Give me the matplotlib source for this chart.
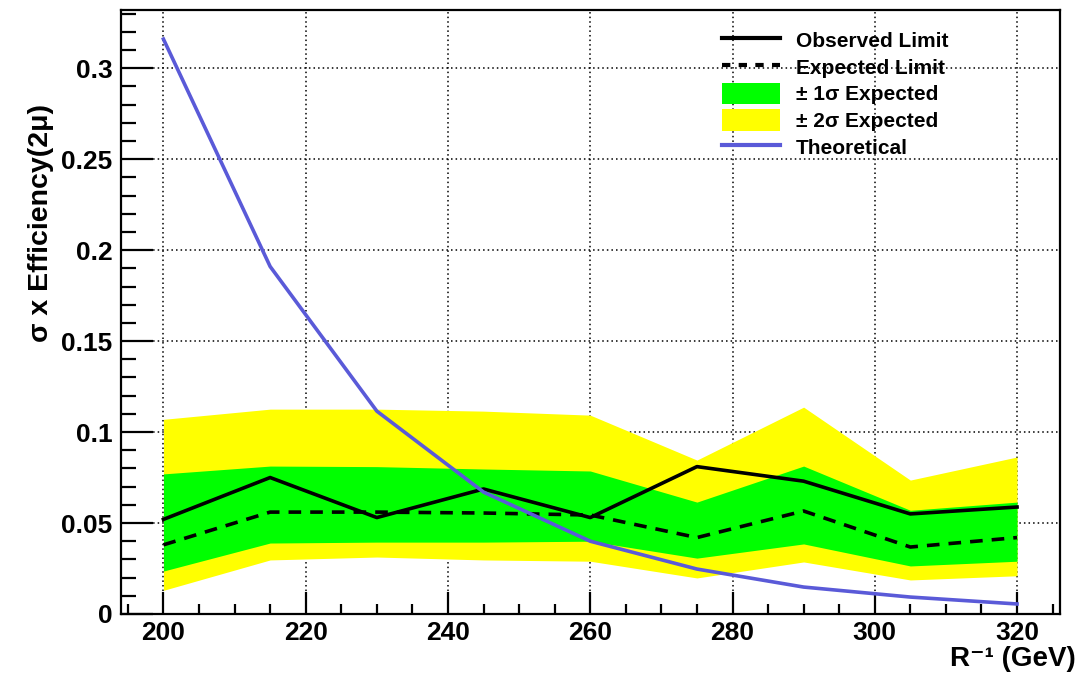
import numpy as np
import matplotlib
matplotlib.use("Agg")
import matplotlib.pyplot as plt
from matplotlib.patches import Patch
from matplotlib.lines import Line2D

plt.rcParams['font.family'] = ['Liberation Sans', 'DejaVu Sans']
plt.rcParams['font.weight'] = 'bold'

# mass points R^-1 (GeV)
mass = [200, 215, 230, 245, 260, 275, 290, 305, 320]

observed = [0.052, 0.075, 0.053, 0.0687, 0.053, 0.081, 0.073, 0.055, 0.0588]
expected = [0.038, 0.056, 0.056, 0.0555, 0.0544, 0.042, 0.0566, 0.0368, 0.042]
sig1_up = [0.077, 0.0813, 0.081, 0.0797, 0.0786, 0.0615, 0.0813, 0.057, 0.0615]
sig1_dn = [0.0236, 0.039, 0.0395, 0.0395, 0.040, 0.0307, 0.0385, 0.0264, 0.029]
sig2_up = [0.107, 0.1126, 0.1126, 0.1115, 0.1093, 0.0846, 0.1137, 0.0736, 0.0863]
sig2_dn = [0.013, 0.0297, 0.0313, 0.0297, 0.029, 0.0198, 0.0286, 0.0187, 0.021]
theory = [0.316, 0.191, 0.1115, 0.067, 0.040, 0.0247, 0.0148, 0.0093, 0.0055]

green = '#00ff00'
yellow = '#ffff00'
blue = '#5a5ad8'

fig = plt.figure(figsize=(10.88, 6.75), dpi=100)
ax = fig.add_axes([0.111, 0.0904, 0.863, 0.8948])

ax.fill_between(mass, sig2_dn, sig2_up, color=yellow, lw=0, zorder=1)
ax.fill_between(mass, sig1_dn, sig1_up, color=green, lw=0, zorder=2)
ax.plot(mass, observed, color='black', lw=2.6, zorder=4)
ax.plot(mass, expected, color='black', lw=2.6, ls=(0, (3.5, 2.5)), zorder=4)
ax.plot(mass, theory, color=blue, lw=2.6, zorder=5)

ax.set_xlim(194, 326)
ax.set_ylim(0, 0.332)
ax.set_xticks(np.arange(200, 321, 20))
ax.set_xticks(np.arange(195, 326, 5), minor=True)
ax.set_yticks(np.arange(0, 0.31, 0.05))
ax.set_yticks(np.arange(0, 0.331, 0.01), minor=True)
ax.set_yticklabels(['0', '0.05', '0.1', '0.15', '0.2', '0.25', '0.3'])

ax.set_axisbelow(True)
ax.grid(True, which='major', color='black', ls=(0, (1, 2)), lw=1.1)

ax.tick_params(axis='both', which='both', direction='in', width=1.6,
               labelsize=19, top=False, right=False)
ax.tick_params(axis='y', which='major', length=23, pad=6)
ax.tick_params(axis='y', which='minor', length=11)
ax.tick_params(axis='x', which='major', length=16, pad=5)
ax.tick_params(axis='x', which='minor', length=7)
for s in ax.spines.values():
    s.set_linewidth(1.6)
    s.set_zorder(6)

fig.text(0.989, 0.004, 'R⁻¹ (GeV)', ha='right', va='bottom',
         fontsize=20, fontweight='bold')
fig.text(0.038, 1 - 104 / 675, 'σ x Efficiency(2μ)', rotation=90,
         ha='center', va='top', fontsize=20.5, fontweight='bold')

handles = [
    Line2D([0], [0], color='black', lw=3),
    Line2D([0], [0], color='black', lw=3, ls=(0, (2, 2))),
    Patch(facecolor=green, edgecolor='none'),
    Patch(facecolor=yellow, edgecolor='none'),
    Line2D([0], [0], color=blue, lw=3),
]
labels = ['Observed Limit', 'Expected Limit', '± 1σ Expected',
          '± 2σ Expected', 'Theoretical']
ax.legend(handles, labels, loc='upper left', bbox_to_anchor=(0.64, 0.968),
          frameon=False, fontsize=15, handlelength=2.8, handleheight=1.2,
          handletextpad=0.75, labelspacing=0.24, borderpad=0, borderaxespad=0)

fig.savefig('out.png', dpi=100)
